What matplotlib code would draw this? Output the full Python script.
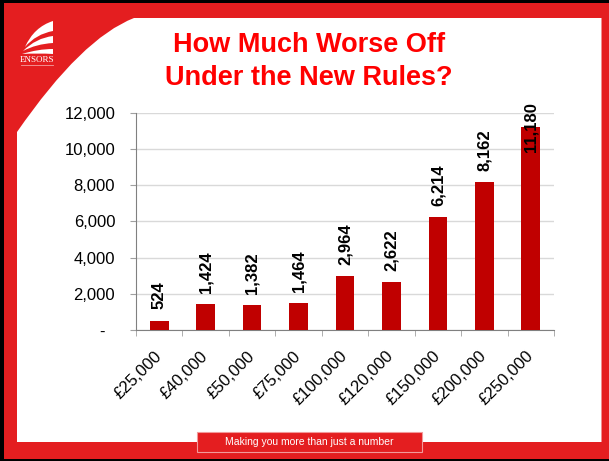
"""Ensors slide: how much worse off under the new rules."""

import matplotlib
matplotlib.use('Agg')
import matplotlib.pyplot as plt
from matplotlib.patches import Rectangle, PathPatch
from matplotlib.path import Path
from numpy import arange

# Data
incomes = ['£25,000', '£40,000', '£50,000', '£75,000', '£100,000',
           '£120,000', '£150,000', '£200,000', '£250,000']
worse_off = [524, 1424, 1382, 1464, 2964, 2622, 6214, 8162, 11180]
y_ticks = [0, 2000, 4000, 6000, 8000, 10000, 12000]
y_tick_labels = ['-  ', '2,000', '4,000', '6,000', '8,000', '10,000', '12,000']
title = 'How Much Worse Off\nUnder the New Rules?'
footer = 'Making you more than just a number'

# Colours
frame_red = '#E41E20'
title_red = '#FF0000'
bar_red = '#C00000'

plt.rcParams['font.family'] = ['Liberation Sans', 'DejaVu Sans']

W, H = 609, 461
fig = plt.figure(figsize=(W / 100, H / 100), dpi=100)
fig.patch.set_facecolor('black')

# Slide background drawn in pixel coordinates
bg = fig.add_axes([0, 0, 1, 1])
bg.set_xlim(0, W)
bg.set_ylim(H, 0)
bg.axis('off')
bg.add_patch(Rectangle((4, 3), W - 4, 456, color=frame_red, lw=0))

verts = [(17, 132), (82, 38), (134, 18), (601.5, 18), (601.5, 442),
         (17, 442), (17, 132)]
codes = [Path.MOVETO, Path.CURVE3, Path.CURVE3, Path.LINETO, Path.LINETO,
         Path.LINETO, Path.CLOSEPOLY]
bg.add_patch(PathPatch(Path(verts, codes), facecolor='white', lw=0))

# Logo swooshes
swooshes = [
    [(25, 47), (34, 27), (53, 21), (53, 31), (36, 34), (25, 47)],
    [(23, 51), (36, 38), (53, 36), (53, 43), (36, 44), (23, 51)],
    [(22, 54), (38, 49), (53, 49), (53, 54), (38, 53), (22, 54)],
]
sw_codes = [Path.MOVETO, Path.CURVE3, Path.CURVE3, Path.LINETO,
            Path.CURVE3, Path.CURVE3]
for s in swooshes:
    bg.add_patch(PathPatch(Path(s, sw_codes), facecolor='white', lw=0))
bg.text(37, 60, 'ENSORS', color='white', fontsize=6.5, ha='center',
        va='center', family='Liberation Serif')
bg.plot([21, 53], [65.5, 65.5], color='#F4A0A0', lw=0.6)

# Title
bg.text(309, 61.5, title, color=title_red, fontsize=19.5, fontweight='bold',
        ha='center', va='center', linespacing=1.38)

# Footer box
bg.add_patch(Rectangle((197, 432), 225, 20, facecolor=frame_red,
                       edgecolor='#F29A9A', lw=0.8))
bg.text(309.5, 442, footer, color='white', fontsize=7.5, ha='center',
        va='center')

# Chart
ax = fig.add_axes([136 / W, 1 - 330 / H, 418 / W, 217.5 / H])
ax.set_facecolor('none')
index = arange(len(incomes))
ax.bar(index, worse_off, 0.4, color=bar_red, zorder=3)
ax.set_xlim(-0.5, len(incomes) - 0.5)
ax.set_ylim(0, 12000)

for i, v in enumerate(worse_off):
    label = f'{v:,}'
    if v > 10000:
        # keep the label inside the slide like PowerPoint does
        ax.text(i, 12550, label, rotation=90, ha='center', va='top',
                fontsize=12, fontweight='bold', zorder=4)
    else:
        ax.annotate(label, (i, v), xytext=(0, 8), textcoords='offset points',
                    rotation=90, ha='center', va='bottom', fontsize=12,
                    fontweight='bold')

ax.set_yticks(y_ticks)
ax.set_yticklabels(y_tick_labels, fontsize=12)
ax.tick_params(axis='y', length=4, color='#A0A0A0', pad=11)
ax.grid(axis='y', color='#D9D9D9', lw=1, zorder=0)

ax.set_xticks(index)
ax.set_xticklabels(incomes, fontsize=12, rotation=45, ha='right',
                   va='center', rotation_mode='anchor')
ax.tick_params(axis='x', length=0, pad=17)
ax.set_xticks(list(index - 0.5) + [len(incomes) - 0.5], minor=True)
ax.tick_params(axis='x', which='minor', length=4, color='#A0A0A0')

for side in ['top', 'right']:
    ax.spines[side].set_visible(False)
for side in ['left', 'bottom']:
    ax.spines[side].set_color('#808080')

plt.savefig('out.png', dpi=100, facecolor=fig.get_facecolor())
